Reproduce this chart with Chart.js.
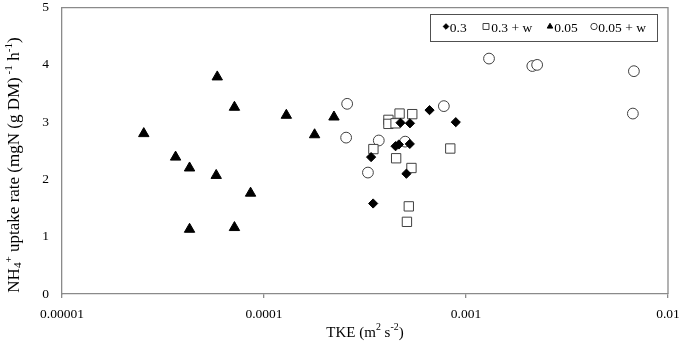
<!DOCTYPE html>
<html>
<head>
<meta charset="utf-8">
<script src="https://cdn.jsdelivr.net/npm/chart.js@4"></script>
<style>
  html, body { margin: 0; padding: 0; background: #fff; }
  #wrap { width: 680px; height: 345px; }
</style>
</head>
<body>
<div id="wrap"><canvas id="c" width="680" height="345"></canvas></div>
<script>
// ---- data ----
const seriesNames = ['0.3', '0.3 + w', '0.05', '0.05 + w'];

const x03  = [6.60e-4, 8.90e-4, 4.74e-4, 5.28e-4, 3.39e-4, 4.48e-4, 4.65e-4, 5.27e-4, 5.07e-4, 3.47e-4];
const y03  = [3.21, 3.00, 2.99, 2.98, 2.39, 2.58, 2.61, 2.62, 2.10, 1.58];

const x03w = [4.13e-4, 4.13e-4, 4.48e-4, 4.69e-4, 5.42e-4, 3.48e-4, 4.51e-4, 5.37e-4, 8.36e-4, 5.21e-4, 5.10e-4];
const y03w = [3.04, 2.97, 2.98, 3.15, 3.14, 2.53, 2.37, 2.20, 2.54, 1.53, 1.26];

const x005 = [2.54e-5, 3.65e-5, 4.28e-5, 4.28e-5, 5.87e-5, 5.80e-5, 7.14e-5, 7.14e-5, 8.58e-5, 1.29e-4, 1.78e-4, 2.22e-4];
const y005 = [2.80, 2.39, 2.20, 1.13, 3.79, 2.07, 3.26, 1.16, 1.76, 3.12, 2.78, 3.09];

const x005w = [2.58e-4, 2.55e-4, 3.70e-4, 3.27e-4, 5.00e-4, 7.77e-4, 1.30e-3, 2.13e-3, 2.25e-3, 6.78e-3, 6.70e-3];
const y005w = [3.32, 2.73, 2.68, 2.12, 2.66, 3.28, 4.11, 3.98, 4.00, 3.89, 3.15];

const xTickValues = [1e-5, 1e-4, 1e-3, 1e-2];
const xTickLabels = ['0.00001', '0.0001', '0.001', '0.01'];
const yTickValues = [0, 1, 2, 3, 4, 5];

// ---- helpers ----
const pts = (xs, ys) => xs.map((x, i) => ({ x: x, y: ys[i] }));
const AXIS = '#8a8a8a';
const FONT = '"Liberation Serif", "Times New Roman", serif';

const styles = [
  { pointStyle: 'rectRot',  radius: 4.6, bg: '#000', border: '#000' },
  { pointStyle: 'rect',     radius: 6.6, bg: '#fff', border: '#404040' },
  { pointStyle: 'triangle', radius: 6.0, bg: '#000', border: '#000' },
  { pointStyle: 'circle',   radius: 5.4, bg: '#fff', border: '#404040' }
];
const dataPairs = [[x03, y03], [x03w, y03w], [x005, y005], [x005w, y005w]];

const datasets = seriesNames.map((name, i) => ({
  label: name,
  data: pts(dataPairs[i][0], dataPairs[i][1]),
  pointStyle: styles[i].pointStyle,
  pointRadius: styles[i].radius,
  pointHoverRadius: styles[i].radius,
  backgroundColor: styles[i].bg,
  borderColor: styles[i].border,
  pointBorderWidth: 1,
  showLine: false
}));

// rich text drawing (for sub/superscripts in axis titles)
function richWidth(ctx, parts, size) {
  let w = 0;
  parts.forEach(p => {
    const s = p.k ? size * 0.66 : size;
    ctx.font = s + 'px ' + FONT;
    w += ctx.measureText(p.t).width;
  });
  return w;
}
function drawRich(ctx, parts, size, x, y) {
  let cx = x;
  parts.forEach(p => {
    const s = p.k ? size * 0.66 : size;
    ctx.font = s + 'px ' + FONT;
    let dy = 0;
    if (p.k === 'sup') dy = -size * 0.36;
    if (p.k === 'sub') dy = size * 0.2;
    ctx.fillText(p.t, cx, y + dy);
    cx += ctx.measureText(p.t).width;
  });
}
const yTitle = [
  { t: 'NH' }, { t: '4', k: 'sub' }, { t: '+', k: 'sup' },
  { t: ' uptake rate (mgN (g DM)' }, { t: ' -1', k: 'sup' },
  { t: ' h' }, { t: '-1', k: 'sup' }, { t: ')' }
];
const xTitle = [
  { t: 'TKE (m' }, { t: '2', k: 'sup' }, { t: ' s' }, { t: '-2', k: 'sup' }, { t: ')' }
];

const decorPlugin = {
  id: 'decor',
  beforeDatasetsDraw(chart) {
    const { ctx, chartArea: a } = chart;
    ctx.save();
    ctx.strokeStyle = AXIS;
    ctx.lineWidth = 1.3;
    ctx.beginPath();
    ctx.moveTo(a.left, a.top);
    ctx.lineTo(a.right, a.top);
    ctx.lineTo(a.right, a.bottom);
    ctx.stroke();
    ctx.restore();
  },
  afterDraw(chart) {
    const { ctx, chartArea: a } = chart;
    ctx.save();
    ctx.fillStyle = '#000';
    ctx.textBaseline = 'middle';
    // x title
    const xs = 15;
    const xw = richWidth(ctx, xTitle, xs);
    drawRich(ctx, xTitle, xs, (a.left + a.right) / 2 - xw / 2, 333);
    // y title
    const ys = 17;
    const yw = richWidth(ctx, yTitle, ys);
    ctx.translate(15, 165);
    ctx.rotate(-Math.PI / 2);
    drawRich(ctx, yTitle, ys, -yw / 2, 0);
    ctx.restore();

    // legend box
    ctx.save();
    const L = { x: 430, y: 14, w: 227, h: 27 };
    ctx.strokeStyle = '#505050';
    ctx.lineWidth = 1;
    ctx.strokeRect(L.x + 0.5, L.y + 0.5, L.w, L.h);
    const markX = [446, 486, 550, 594];
    const legR = [2.8, 4.2, 3.2, 3.2];
    const cy = L.y + L.h / 2 + 1;
    ctx.font = '13.5px ' + FONT;
    ctx.textBaseline = 'middle';
    chart.data.datasets.forEach((ds, i) => {
      ctx.save();
      ctx.fillStyle = ds.backgroundColor;
      ctx.strokeStyle = ds.borderColor;
      ctx.lineWidth = 1;
      Chart.helpers.drawPoint(ctx, { pointStyle: ds.pointStyle, radius: legR[i], borderWidth: 1 }, markX[i], cy - 2);
      ctx.restore();
      ctx.fillStyle = '#000';
      ctx.fillText(ds.label, markX[i] + legR[i] + 1, cy);
    });
    ctx.restore();
  }
};

new Chart(document.getElementById('c'), {
  type: 'scatter',
  data: { datasets: datasets },
  options: {
    responsive: false,
    animation: false,
    devicePixelRatio: 1,
    layout: { padding: { left: 0, right: 12, top: 5, bottom: 0 } },
    plugins: { legend: { display: false }, tooltip: { enabled: false } },
    scales: {
      x: {
        type: 'logarithmic',
        min: xTickValues[0],
        max: xTickValues[xTickValues.length - 1],
        afterBuildTicks: s => { s.ticks = xTickValues.map(v => ({ value: v })); },
        afterFit: s => { s.height = 51; s.paddingLeft = 0; s.paddingRight = 0; },
        ticks: {
          autoSkip: false,
          maxRotation: 0,
          padding: 8,
          color: '#000',
          font: { family: FONT, size: 13.5 },
          callback: (v) => { const i = xTickValues.indexOf(v); return i >= 0 ? xTickLabels[i] : ''; }
        },
        grid: { display: true, drawOnChartArea: false, drawTicks: true, tickLength: 4, color: AXIS, lineWidth: 1.3 },
        border: { display: true, color: AXIS, width: 1.3 }
      },
      y: {
        min: yTickValues[0],
        max: yTickValues[yTickValues.length - 1],
        afterBuildTicks: s => { s.ticks = yTickValues.map(v => ({ value: v })); },
        afterFit: s => { s.width = 62; s.paddingTop = 0; s.paddingBottom = 0; },
        ticks: {
          padding: 13,
          color: '#000',
          font: { family: FONT, size: 13.5 }
        },
        grid: { display: false, drawTicks: false },
        border: { display: true, color: AXIS, width: 1.3 }
      }
    }
  },
  plugins: [decorPlugin]
});
</script>
</body>
</html>
